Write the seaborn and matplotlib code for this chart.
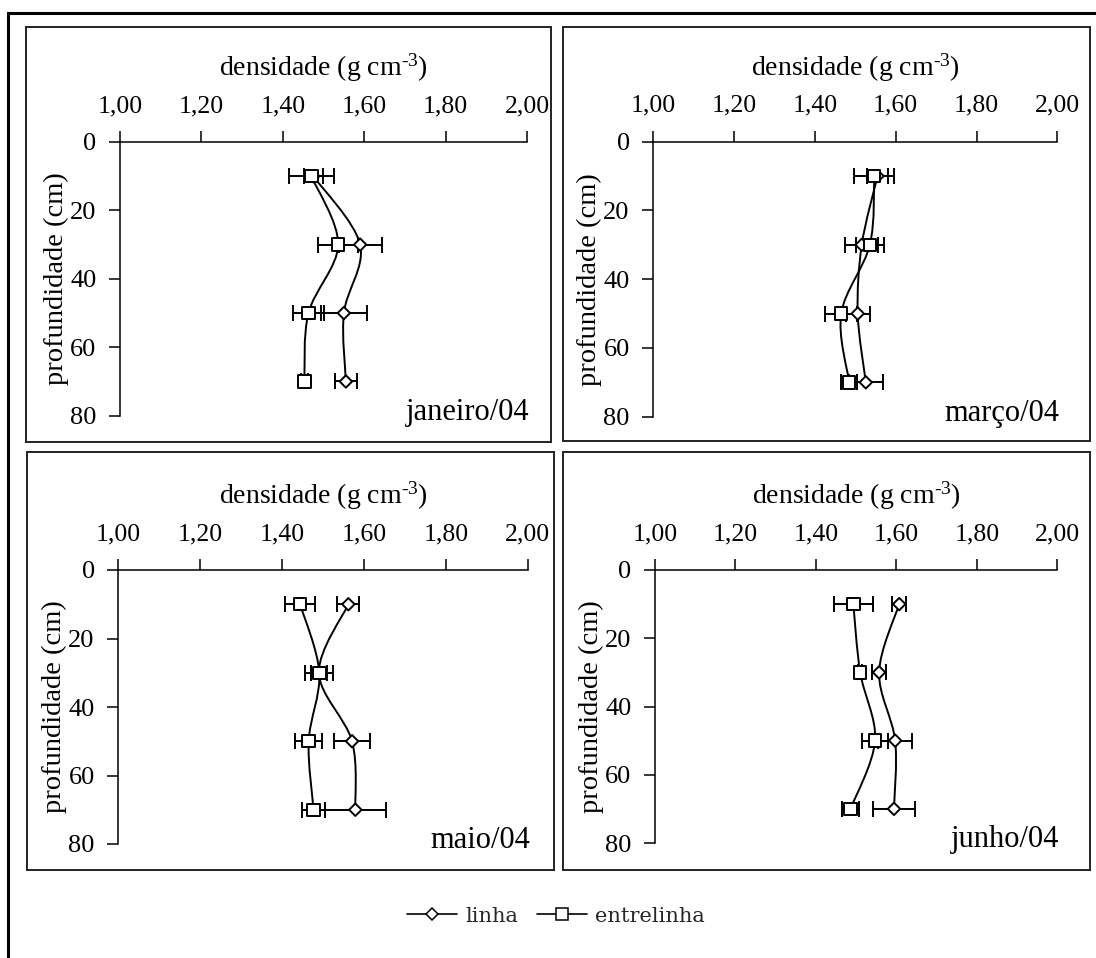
import numpy as np
import pandas as pd
import matplotlib
matplotlib.use("Agg")
import matplotlib.pyplot as plt
from matplotlib.path import Path
from matplotlib.patches import PathPatch, Rectangle
from matplotlib.lines import Line2D
import seaborn as sns

# ---- data: bulk density (g cm-3) by depth, row vs inter-row ----
profundidade = [10, 30, 50, 70]
meses = ["janeiro/04", "março/04", "maio/04", "junho/04"]

linha_jan = [1.475, 1.590, 1.550, 1.555]
linha_jan_err = [0.024, 0.053, 0.057, 0.027]
entre_jan = [1.470, 1.536, 1.463, 1.453]
entre_jan_err = [0.055, 0.049, 0.039, 0.008]

linha_mar = [1.555, 1.516, 1.506, 1.526]
linha_mar_err = [0.025, 0.041, 0.030, 0.042]
entre_mar = [1.547, 1.536, 1.465, 1.485]
entre_mar_err = [0.050, 0.035, 0.040, 0.020]

linha_mai = [1.562, 1.490, 1.571, 1.579]
linha_mai_err = [0.027, 0.020, 0.044, 0.075]
entre_mai = [1.444, 1.491, 1.465, 1.477]
entre_mai_err = [0.037, 0.034, 0.033, 0.028]

linha_jun = [1.607, 1.557, 1.597, 1.594]
linha_jun_err = [0.018, 0.017, 0.043, 0.052]
entre_jun = [1.493, 1.510, 1.547, 1.486]
entre_jun_err = [0.048, 0.005, 0.033, 0.021]

x_ticks = [1.0, 1.2, 1.4, 1.6, 1.8, 2.0]
x_tick_labels = ["1,00", "1,20", "1,40", "1,60", "1,80", "2,00"]
y_ticks = [0, 20, 40, 60, 80]
series_names = ["linha", "entrelinha"]

panels = [
    (linha_jan, linha_jan_err, entre_jan, entre_jan_err),
    (linha_mar, linha_mar_err, entre_mar, entre_mar_err),
    (linha_mai, linha_mai_err, entre_mai, entre_mai_err),
    (linha_jun, linha_jun_err, entre_jun, entre_jun_err),
]

# ---- style ----
sns.set_theme(style="white")
plt.rcParams["font.family"] = ["Liberation Serif", "DejaVu Serif"]
plt.rcParams["mathtext.fontset"] = "custom"
plt.rcParams["mathtext.rm"] = "Liberation Serif"
plt.rcParams["mathtext.it"] = "Liberation Serif:italic"
plt.rcParams["mathtext.bf"] = "Liberation Serif:bold"

W, H = 1096, 958
fig = plt.figure(figsize=(W / 100, H / 100), dpi=100)
fig.patch.set_facecolor("white")


def px_rect(l, t, r, b):
    return [l / W, 1 - b / H, (r - l) / W, (b - t) / H]


def smooth_path(x, y):
    """Cubic Bezier path passing through every point (Catmull-Rom style)."""
    pts = np.column_stack([x, y]).astype(float)
    n = len(pts)
    verts = [pts[0]]
    codes = [Path.MOVETO]
    for i in range(n - 1):
        p0 = pts[max(i - 1, 0)]
        p1 = pts[i]
        p2 = pts[i + 1]
        p3 = pts[min(i + 2, n - 1)]
        verts += [p1 + (p2 - p0) / 6, p2 - (p3 - p1) / 6, p2]
        codes += [Path.CURVE4] * 3
    return Path(verts, codes)


# outer frame and panel boxes (pixel coordinates)
outer = Rectangle((8 / W, -0.02), 1.1, 1 - 13 / H + 0.02, transform=fig.transFigure,
                  fill=False, edgecolor="black", linewidth=2.2, zorder=0)
fig.patches.append(outer)
boxes = [(25.5, 27, 551, 441.5), (562.5, 26.5, 1090, 441),
         (26.5, 452, 554, 869.5), (562.5, 452, 1090, 869.5)]
for l, t, r, b in boxes:
    fig.patches.append(Rectangle((l / W, 1 - b / H), (r - l) / W, (b - t) / H,
                                 transform=fig.transFigure, fill=False,
                                 edgecolor="#222222", linewidth=1.4, zorder=0))

axes_px = [(120, 142, 527, 415.7), (653.3, 141.7, 1057.3, 416.7),
           (118.3, 570, 527.7, 844), (655, 570, 1057.3, 843)]

for (l, t, r, b), mes, (lin, lin_e, ent, ent_e) in zip(axes_px, meses, panels):
    ax = fig.add_axes(px_rect(l, t, r, b))
    ax.set_facecolor("none")

    # error bars
    for vals, errs in ((lin, lin_e), (ent, ent_e)):
        ax.errorbar(vals, profundidade, xerr=errs, fmt="none", ecolor="black",
                    elinewidth=1.4, capsize=5.5, capthick=1.4, zorder=2)

    # smoothed connecting lines
    for vals in (lin, ent):
        ax.add_patch(PathPatch(smooth_path(vals, profundidade), fill=False,
                               edgecolor="black", linewidth=1.4, zorder=2))

    # markers
    df = pd.DataFrame({
        "dens": list(lin) + list(ent),
        "prof": profundidade * 2,
        "serie": ["linha"] * 4 + ["entrelinha"] * 4,
    })
    sns.scatterplot(data=df, x="dens", y="prof", style="serie", size="serie",
                    markers={"linha": "D", "entrelinha": "s"},
                    sizes={"linha": 40, "entrelinha": 80},
                    style_order=series_names, size_order=series_names,
                    color="white", edgecolor="black", linewidth=1.4,
                    legend=False, zorder=3, clip_on=False, ax=ax)

    ax.set_xlim(1.0, 2.0)
    ax.set_ylim(80, 0)
    ax.set_xticks(x_ticks)
    ax.set_xticklabels(x_tick_labels)
    ax.set_yticks(y_ticks)
    ax.xaxis.tick_top()
    ax.xaxis.set_label_position("top")
    for side in ("right", "bottom"):
        ax.spines[side].set_visible(False)
    for side in ("left", "top"):
        ax.spines[side].set_color("black")
        ax.spines[side].set_linewidth(1.1)
    ax.tick_params(axis="x", direction="out", length=8, width=1.1, color="black",
                   pad=10, labelsize=18.5, labelcolor="black", top=True, bottom=False)
    ax.tick_params(axis="y", direction="out", length=8, width=1.1, color="black",
                   pad=9, labelsize=19, labelcolor="black", left=True)
    ax.set_xlabel("densidade (g cm$^{\\text{-3}}$)", fontsize=20,
                  color="black", labelpad=14)
    ax.set_ylabel("profundidade (cm)", fontsize=20.5, color="black", labelpad=1)
    ax.grid(False)
    ax.text(1.006, -0.016, mes, transform=ax.transAxes, ha="right", va="baseline",
            fontsize=22, color="black")

# legend
handles = [
    Line2D([], [], color="black", lw=1.2, marker="D", markersize=6,
           markerfacecolor="white", markeredgecolor="black", markeredgewidth=1.1),
    Line2D([], [], color="black", lw=1.2, marker="s", markersize=8,
           markerfacecolor="white", markeredgecolor="black", markeredgewidth=1.1),
]
fig.legend(handles, series_names, loc="center", ncol=2, frameon=False,
           bbox_to_anchor=(556 / W, 1 - 916 / H), handlelength=2.4,
           handletextpad=0.4, columnspacing=0.9,
           prop={"family": "DejaVu Serif", "size": 15})

fig.savefig("out.png", dpi=100, facecolor="white")
